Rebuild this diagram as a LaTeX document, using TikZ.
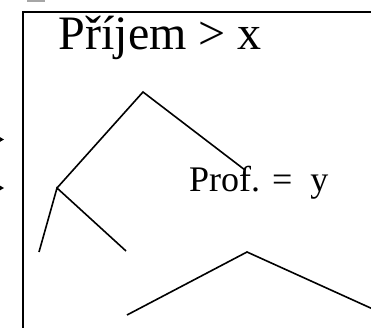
\documentclass[tikz,border=0pt]{standalone}
\usepackage{fontspec}
\setmainfont{Liberation Serif}
\begin{document}
\begin{tikzpicture}[x=1pt,y=-1pt,
  branch/.style={line width=1.6pt,line cap=butt},
  frame/.style={line width=2pt},
  lbl/.style={inner sep=0pt,anchor=base west}]
\useasboundingbox (0,0) rectangle (371,328);
\begin{scope}
\clip (0,0) rectangle (371,328);
% frame
\draw[frame] (22.5,340) -- (22.5,12.5) -- (380,12.5);
% gray bar
\fill[gray!70] (27,0) rectangle (45,2.2);
% arrow tips at left
\fill (-2,136) -- (4,139.5) -- (-2,143) -- cycle;
\fill (-2,184.5) -- (4,188) -- (-2,191.5) -- cycle;
% tree
\coordinate (apex) at (143,92);
\coordinate (mid) at (57,188);
\coordinate (r) at (245,170);
\coordinate (ll) at (39,252);
\coordinate (lr) at (126,251);
\coordinate (b1) at (127,315);
\coordinate (b2) at (247,252);
\coordinate (b3) at (375,310);
\draw[branch] (mid) -- (apex) -- (r);
\draw[branch] (ll) -- (mid) -- (lr);
\draw[branch] (b1) -- (b2) -- (b3);
% texts
\node[lbl,font=\fontsize{48}{50}\selectfont] (title) at (58.5,50) {Příjem > x};
\node[lbl,font=\fontsize{36}{38}\selectfont] (prof) at (189,192) {Prof. =\ \ y};
\end{scope}
\end{tikzpicture}
\end{document}
